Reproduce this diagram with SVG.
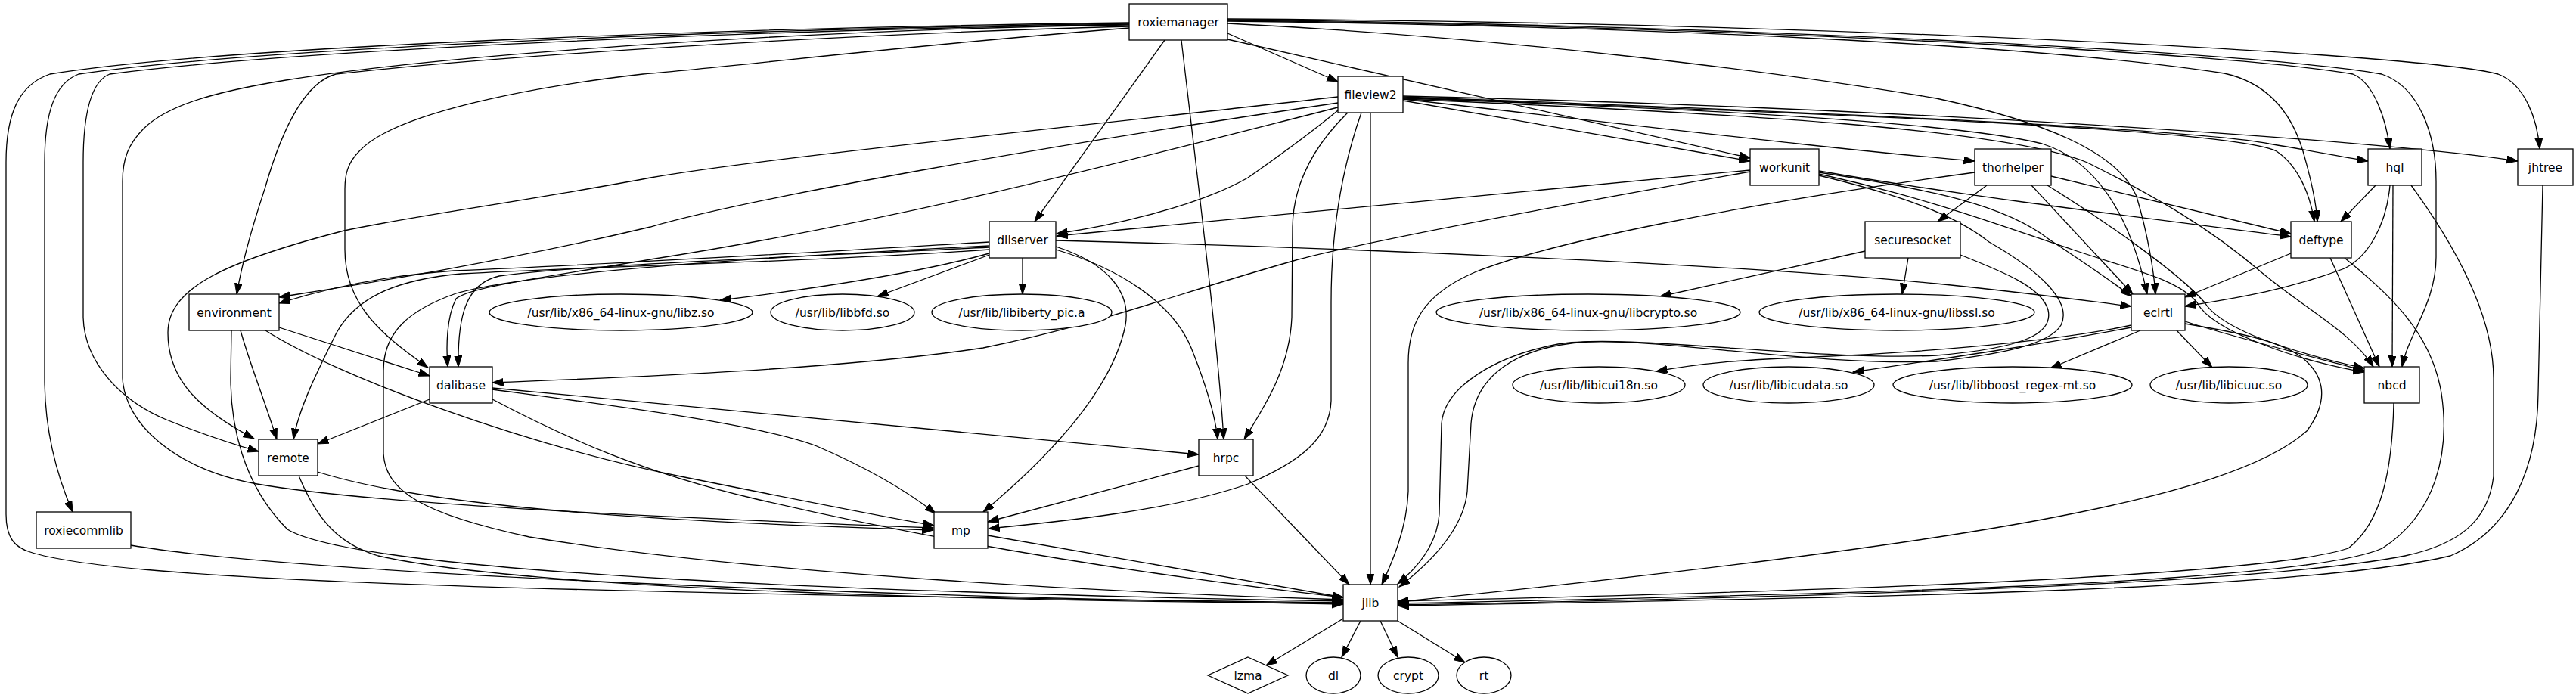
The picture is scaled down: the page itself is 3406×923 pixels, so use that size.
<svg xmlns="http://www.w3.org/2000/svg" width="3406" height="923" viewBox="0 0 3406 923">
<style>
.n rect,.n ellipse,.n polygon{fill:#fff;stroke:#000;stroke-width:1.3}
text{font-family:"DejaVu Sans","Liberation Sans",sans-serif;font-size:15.5px;text-anchor:middle;fill:#000}
#edges path{fill:none;stroke:#000;stroke-width:1.3;marker-end:url(#a)}
</style>
<defs>
<marker id="a" markerUnits="userSpaceOnUse" markerWidth="16" markerHeight="11" refX="14.5" refY="5" orient="auto" viewBox="0 0 16 11">
<path d="M0,0 L14.5,5 L0,10 z" fill="#000" stroke="#000" stroke-width="1"/>
</marker>
</defs>
<rect width="3406" height="923" fill="#fff"/>
<g id="edges">
<path d="M1623,44 L1769,108"/>
<path d="M1540,53 L1368,293"/>
<path d="M1562,53 C1585,250 1610,450 1618,581"/>
<path d="M1623,52 L2314,209"/>
<path d="M1623,31 C2000,50 2350,95 2560,130 C2700,160 2800,200 2825,260 C2840,310 2848,360 2850,389"/>
<path d="M1623,28 C2200,35 2700,60 2941,97 C3000,110 3030,150 3045,200 C3058,245 3063,275 3064,293"/>
<path d="M1623,27 C2300,35 2950,70 3111,98 C3140,110 3155,160 3160,197"/>
<path d="M1623,26 C2300,33 3000,70 3149,98 C3200,115 3221,180 3221,240 L3221,340 C3221,400 3185,440 3176,485"/>
<path d="M1623,25 C2400,30 3200,70 3303,98 C3340,112 3355,160 3358,197"/>
<path d="M1493,30 C1000,36 300,60 66,98 C25,112 8,150 8,215 L8,680 C8,712 20,724 40,730 C150,765 600,783 1776,797"/>
<path d="M1493,31 C1000,38 350,62 104,98 C72,110 59,150 59,215 L59,500 C59,580 80,640 96,677"/>
<path d="M1493,32 C1000,40 400,65 145,98 C120,108 110,150 110,215 L110,420 C112,480 160,530 220,555 C270,575 310,588 342,597"/>
<path d="M1493,33 C1100,38 600,70 378,106 C280,122 220,140 190,170 C170,190 162,210 162,240 L162,500 C165,560 230,620 340,640 C500,668 900,685 1234,698"/>
<path d="M1493,35 C1100,45 650,75 444,98 C400,110 370,180 350,250 C330,310 318,360 313,389"/>
<path d="M1493,37 C1200,60 1000,85 850,98 C700,115 520,150 475,200 C460,215 456,230 456,250 L456,330 C456,400 500,440 566,486"/>
<path d="M1855,133 L2314,213"/>
<path d="M1855,131 C2200,170 2450,200 2611,213"/>
<path d="M1855,127 C2500,142 3150,185 3329,213"/>
<path d="M1855,128 C2400,148 2900,170 3000,190 C3060,200 3100,208 3131,213"/>
<path d="M1855,129 C2400,150 2950,170 3010,200 C3040,220 3055,260 3060,293"/>
<path d="M1855,130 C2300,145 2600,165 2700,190 C2780,215 2820,300 2839,389"/>
<path d="M1855,131 C2300,150 2650,170 2760,215 C2850,260 2920,300 2990,360 C3050,410 3110,440 3138,485"/>
<path d="M1769,146 C1740,170 1700,200 1650,235 C1580,275 1460,300 1397,309"/>
<path d="M1769,136 C1400,190 1000,260 860,300 C650,350 450,380 369,393"/>
<path d="M1769,128 C1400,170 1000,210 860,235 C700,265 550,285 455,305 C300,345 222,380 222,440 C222,500 260,540 336,580"/>
<path d="M1769,142 C1500,210 1200,290 860,343 C700,370 620,380 603,395 C590,420 590,460 592,485"/>
<path d="M1800,149 C1775,220 1760,300 1760,400 L1760,530 C1758,580 1720,610 1650,640 C1550,675 1400,690 1307,699"/>
<path d="M1782,149 C1740,190 1710,240 1709,300 L1708,420 C1705,490 1670,540 1645,581"/>
<path d="M1812,149 L1812,773"/>
<path d="M2314,225 L1397,312"/>
<path d="M2314,227 C2100,265 1800,320 1710,345 C1550,390 1450,430 1300,460 C1100,490 800,500 651,506"/>
<path d="M2405,226 C2600,260 2850,290 3029,313"/>
<path d="M2405,228 C2550,250 2650,270 2710,317 C2760,350 2790,370 2818,392"/>
<path d="M2405,230 C2550,262 2650,300 2740,330 C2830,360 2880,370 2905,400 C2925,440 3050,480 3126,492"/>
<path d="M2405,232 C2500,255 2580,280 2630,320 C2700,360 2740,400 2725,430 C2710,455 2650,468 2560,478 C2400,484 2200,448 2100,452 C2000,458 1950,500 1945,560 L1940,650 C1935,700 1890,745 1850,776"/>
<path d="M2627,245 L2562,293"/>
<path d="M2686,245 L2820,389"/>
<path d="M2712,233 L3029,309"/>
<path d="M2707,245 C2780,290 2880,360 2915,400 C2940,440 3050,470 3126,487"/>
<path d="M2611,228 C2300,270 2050,320 1950,360 C1880,390 1862,430 1862,480 L1862,650 C1860,700 1840,745 1827,773"/>
<path d="M2466,332 L2195,392"/>
<path d="M2523,341 L2515,389"/>
<path d="M2592,337 C2650,360 2700,380 2708,410 C2715,440 2680,460 2560,470 C2400,478 2150,440 2060,455 C1980,470 1910,510 1906,560 L1903,680 C1900,720 1875,750 1848,772"/>
<path d="M1308,335 C1200,365 1050,385 952,397"/>
<path d="M1308,337 L1160,392"/>
<path d="M1352,341 L1352,389"/>
<path d="M1396,318 C1800,328 2300,350 2560,375 C2680,387 2760,398 2818,405"/>
<path d="M1396,326 C1470,350 1495,390 1488,430 C1470,520 1380,610 1300,677"/>
<path d="M1396,330 C1480,355 1550,400 1575,460 C1595,510 1607,550 1610,581"/>
<path d="M1308,320 C1050,335 800,350 600,358 C500,365 420,385 369,401"/>
<path d="M1308,330 C1100,345 800,352 610,362 C520,370 470,395 445,440 C420,490 395,540 388,581"/>
<path d="M1308,327 C1000,342 750,352 660,365 C615,375 605,420 606,485"/>
<path d="M1308,325 C1000,340 700,360 603,388 C540,410 507,440 507,490 L507,600 C510,650 560,680 700,710 C1000,760 1500,785 1776,793"/>
<path d="M318,437 C330,480 350,530 366,581"/>
<path d="M369,433 L568,497"/>
<path d="M351,437 C450,500 700,590 900,630 C1050,660 1150,680 1235,695"/>
<path d="M306,437 L305,500 C305,560 320,640 380,700 C480,760 1200,785 1776,795"/>
<path d="M568,528 L420,587"/>
<path d="M651,513 L1585,601"/>
<path d="M651,515 C800,535 1000,560 1080,590 C1150,620 1200,650 1237,679"/>
<path d="M651,528 C750,580 850,625 1000,660 C1300,730 1600,770 1776,790"/>
<path d="M420,624 C550,665 800,688 1234,701"/>
<path d="M395,629 C420,690 450,720 500,735 C700,780 1300,795 1776,798"/>
<path d="M173,721 C400,760 1200,790 1776,799"/>
<path d="M1585,616 L1306,690"/>
<path d="M1646,629 L1784,773"/>
<path d="M1306,708 L1776,790"/>
<path d="M1776,818 L1674,880"/>
<path d="M1799,821 L1774,869"/>
<path d="M1825,821 L1848,869"/>
<path d="M1848,821 L1937,876"/>
<path d="M2818,430 C2700,455 2500,468 2400,472 C2300,476 2250,480 2190,491"/>
<path d="M2818,433 C2700,455 2600,470 2450,492"/>
<path d="M2830,437 L2711,487"/>
<path d="M2878,437 L2925,486"/>
<path d="M2889,425 C2950,445 3050,470 3126,490"/>
<path d="M2889,428 C2960,440 3010,450 3040,470 C3075,495 3080,530 3050,570 C2950,660 2600,720 1848,796"/>
<path d="M3029,335 L2889,393"/>
<path d="M3081,341 L3146,485"/>
<path d="M3100,341 C3160,390 3215,440 3228,520 C3240,600 3220,680 3150,725 C3050,770 2500,785 1848,798"/>
<path d="M3141,245 L3095,293"/>
<path d="M3160,245 C3155,300 3130,340 3100,355 C3020,385 2950,395 2889,405"/>
<path d="M3164,245 L3163,485"/>
<path d="M3188,245 C3250,330 3297,420 3297,500 L3297,630 C3290,690 3250,720 3180,735 C3000,770 2500,788 1848,800"/>
<path d="M3362,245 L3356,520 C3355,620 3320,700 3240,735 C3050,780 2500,790 1848,801"/>
<path d="M3165,533 C3163,620 3150,690 3105,725 C3000,760 2500,780 1848,795"/>
</g>
<g id="roxiemanager" class="n"><rect x="1493" y="5" width="130" height="48"/><text x="1558" y="34.5">roxiemanager</text></g>
<g id="fileview2" class="n"><rect x="1769" y="101" width="86" height="48"/><text x="1812" y="130.5">fileview2</text></g>
<g id="workunit" class="n"><rect x="2314" y="197" width="91" height="48"/><text x="2359.5" y="226.5">workunit</text></g>
<g id="thorhelper" class="n"><rect x="2611" y="197" width="101" height="48"/><text x="2661.5" y="226.5">thorhelper</text></g>
<g id="hql" class="n"><rect x="3131" y="197" width="71" height="48"/><text x="3166.5" y="226.5">hql</text></g>
<g id="jhtree" class="n"><rect x="3329" y="197" width="73" height="48"/><text x="3365.5" y="226.5">jhtree</text></g>
<g id="dllserver" class="n"><rect x="1308" y="293" width="88" height="48"/><text x="1352" y="322.5">dllserver</text></g>
<g id="securesocket" class="n"><rect x="2466" y="293" width="126" height="48"/><text x="2529" y="322.5">securesocket</text></g>
<g id="deftype" class="n"><rect x="3029" y="293" width="80" height="48"/><text x="3069" y="322.5">deftype</text></g>
<g id="environment" class="n"><rect x="250" y="389" width="119" height="48"/><text x="309.5" y="418.5">environment</text></g>
<g id="libz" class="n"><ellipse cx="821" cy="413" rx="174" ry="24"/><text x="821" y="418.5">/usr/lib/x86_64-linux-gnu/libz.so</text></g>
<g id="libbfd" class="n"><ellipse cx="1114" cy="413" rx="95" ry="24"/><text x="1114" y="418.5">/usr/lib/libbfd.so</text></g>
<g id="libiberty" class="n"><ellipse cx="1351" cy="413" rx="119" ry="24"/><text x="1351" y="418.5">/usr/lib/libiberty_pic.a</text></g>
<g id="libcrypto" class="n"><ellipse cx="2100" cy="413" rx="201" ry="24"/><text x="2100" y="418.5">/usr/lib/x86_64-linux-gnu/libcrypto.so</text></g>
<g id="libssl" class="n"><ellipse cx="2508" cy="413" rx="182" ry="24"/><text x="2508" y="418.5">/usr/lib/x86_64-linux-gnu/libssl.so</text></g>
<g id="eclrtl" class="n"><rect x="2818" y="389" width="71" height="48"/><text x="2853.5" y="418.5">eclrtl</text></g>
<g id="dalibase" class="n"><rect x="568" y="485" width="83" height="48"/><text x="609.5" y="514.5">dalibase</text></g>
<g id="libicui18n" class="n"><ellipse cx="2114" cy="509" rx="114" ry="24"/><text x="2114" y="514.5">/usr/lib/libicui18n.so</text></g>
<g id="libicudata" class="n"><ellipse cx="2365" cy="509" rx="113" ry="24"/><text x="2365" y="514.5">/usr/lib/libicudata.so</text></g>
<g id="libboost" class="n"><ellipse cx="2661" cy="509" rx="158" ry="24"/><text x="2661" y="514.5">/usr/lib/libboost_regex-mt.so</text></g>
<g id="libicuuc" class="n"><ellipse cx="2947" cy="509" rx="104" ry="24"/><text x="2947" y="514.5">/usr/lib/libicuuc.so</text></g>
<g id="nbcd" class="n"><rect x="3126" y="485" width="73" height="48"/><text x="3162.5" y="514.5">nbcd</text></g>
<g id="remote" class="n"><rect x="342" y="581" width="78" height="48"/><text x="381" y="610.5">remote</text></g>
<g id="hrpc" class="n"><rect x="1585" y="581" width="72" height="48"/><text x="1621" y="610.5">hrpc</text></g>
<g id="roxiecommlib" class="n"><rect x="48" y="677" width="125" height="48"/><text x="110.5" y="706.5">roxiecommlib</text></g>
<g id="mp" class="n"><rect x="1235" y="677" width="71" height="48"/><text x="1270.5" y="706.5">mp</text></g>
<g id="jlib" class="n"><rect x="1776" y="773" width="72" height="48"/><text x="1812" y="802.5">jlib</text></g>
<g id="lzma" class="n"><polygon points="1650,869 1703,893 1650,917 1597,893"/><text x="1650" y="898.5">lzma</text></g>
<g id="dl" class="n"><ellipse cx="1763" cy="893" rx="36" ry="24"/><text x="1763" y="898.5">dl</text></g>
<g id="crypt" class="n"><ellipse cx="1862" cy="893" rx="40" ry="24"/><text x="1862" y="898.5">crypt</text></g>
<g id="rt" class="n"><ellipse cx="1962" cy="893" rx="36" ry="24"/><text x="1962" y="898.5">rt</text></g>
</svg>
